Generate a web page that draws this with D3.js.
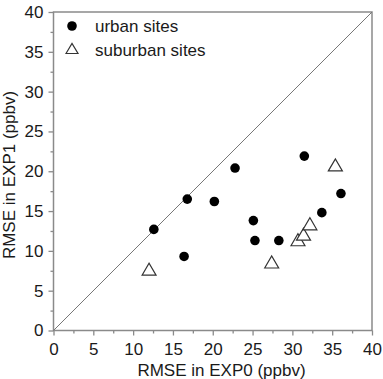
<!DOCTYPE html>
<meta charset="utf-8">
<script src="https://d3js.org/d3.v7.min.js"></script>
<style>
  body { margin: 0; background: #fff; }
  text { font-family: Arial, "Liberation Sans", sans-serif; fill: #1a1a1a; }
</style>
<div id="chart"></div>
<script>
// urban sites (filled circles)
var urbanX = [12.6, 16.4, 16.8, 20.2, 22.8, 25.1, 25.3, 28.3, 31.5, 33.7, 36.1];
var urbanY = [12.7, 9.3, 16.5, 16.2, 20.4, 13.8, 11.3, 11.3, 21.9, 14.8, 17.2];
// suburban sites (open triangles)
var suburbX = [12.0, 27.4, 30.7, 31.4, 32.2, 35.4];
var suburbY = [7.7, 8.6, 11.4, 12.1, 13.4, 20.8];

var majorTicks = [0, 5, 10, 15, 20, 25, 30, 35, 40];
var minorTicks = [2.5, 7.5, 12.5, 17.5, 22.5, 27.5, 32.5, 37.5];

var W = 383, H = 379;
var margin = {top: 12, left: 53.5, right: 11, bottom: 48.5};
var width = W - margin.left - margin.right,
    height = H - margin.top - margin.bottom;

var svg = d3.select("#chart").append("svg")
  .attr("width", W).attr("height", H);

var g = svg.append("g")
  .attr("transform", "translate(" + margin.left + "," + margin.top + ")");

var xs = d3.scaleLinear().domain([0, 40]).range([0, width]);
var ys = d3.scaleLinear().domain([0, 40]).range([height, 0]);

var axisColor = "#8a8a8a";

// frame
g.append("rect")
  .attr("x", 0).attr("y", 0)
  .attr("width", width).attr("height", height)
  .attr("fill", "none")
  .attr("stroke", axisColor)
  .attr("stroke-width", 1.5);

// x axis
g.append("g")
  .attr("transform", "translate(0," + height + ")")
  .call(d3.axisBottom(xs).tickValues(majorTicks).tickSize(5).tickPadding(7));
g.append("g")
  .attr("transform", "translate(0," + height + ")")
  .call(d3.axisBottom(xs).tickValues(minorTicks).tickSize(3).tickFormat(""));

// y axis
g.append("g")
  .call(d3.axisLeft(ys).tickValues(majorTicks).tickSize(5).tickPadding(5));
g.append("g")
  .call(d3.axisLeft(ys).tickValues(minorTicks).tickSize(3).tickFormat(""));

g.selectAll(".domain").remove();
g.selectAll(".tick line").attr("stroke", axisColor).attr("stroke-width", 1.3);
g.selectAll(".tick text")
  .style("font-size", "17px")
  .style("font-family", "Arial, 'Liberation Sans', sans-serif")
  .attr("fill", "#1a1a1a");

// axis titles
g.append("text")
  .attr("x", 168)
  .attr("y", height + 45)
  .style("text-anchor", "middle")
  .style("font-size", "17px")
  .text("RMSE in EXP0 (ppbv)");

g.append("text")
  .attr("transform", "translate(" + (15 - margin.left) + "," + (163) + ") rotate(-90)")
  .style("text-anchor", "middle")
  .style("font-size", "17px")
  .text("RMSE in EXP1 (ppbv)");

// 1:1 line
g.append("line")
  .attr("x1", xs(0)).attr("y1", ys(0))
  .attr("x2", xs(40)).attr("y2", ys(40))
  .attr("stroke", "#777")
  .attr("stroke-width", 1);

function triPath(cx, cy, w, h) {
  return "M" + (cx - w / 2) + "," + (cy + h / 2) +
         "L" + cx + "," + (cy - h / 2) +
         "L" + (cx + w / 2) + "," + (cy + h / 2) + "Z";
}

// suburban triangles
g.selectAll(".suburb")
  .data(suburbX)
  .enter().append("path")
  .attr("class", "suburb")
  .attr("d", function(d, i) { return triPath(xs(d), ys(suburbY[i]), 14, 12); })
  .attr("fill", "#fff")
  .attr("stroke", "#333")
  .attr("stroke-width", 1.2);

// urban circles
g.selectAll(".urban")
  .data(urbanX)
  .enter().append("circle")
  .attr("class", "urban")
  .attr("cx", function(d) { return xs(d); })
  .attr("cy", function(d, i) { return ys(urbanY[i]); })
  .attr("r", 4.8)
  .attr("fill", "#000");

// legend
var leg = svg.append("g");
leg.append("circle").attr("cx", 72).attr("cy", 26).attr("r", 4.8).attr("fill", "#000");
leg.append("text").attr("x", 95).attr("y", 31.5).style("font-size", "17px").text("urban sites");
leg.append("path").attr("d", triPath(72, 48.5, 12, 10))
  .attr("fill", "#fff").attr("stroke", "#333").attr("stroke-width", 1.2);
leg.append("text").attr("x", 95).attr("y", 55.5).style("font-size", "17px").text("suburban sites");
</script>
